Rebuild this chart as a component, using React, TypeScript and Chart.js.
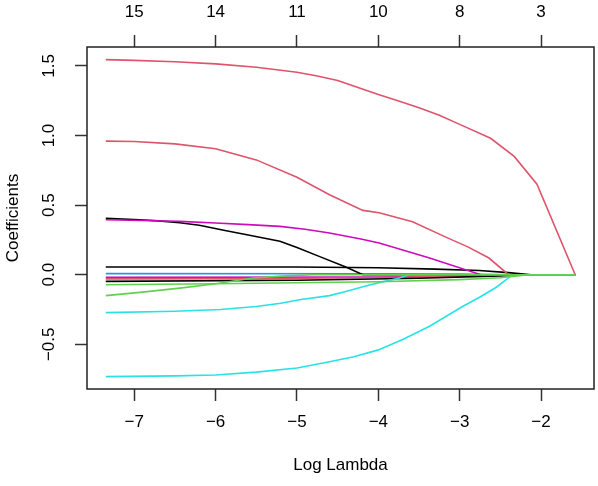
import { useEffect, useRef } from "react";
import { Chart, registerables } from "chart.js";

Chart.register(...registerables);

const FONT = "'Liberation Sans', Arial, Helvetica, sans-serif";

// R default palette colours used for the coefficient paths
const BLACK = "#000000";
const PINK = "#DF536B";
const GREEN = "#61D04F";
const BLUE = "#2297E6";
const CYAN = "#28E2E5";
const MAGENTA = "#CD0BBC";

// Axis ticks: log(lambda) along the bottom, number of non-zero coefficients on top
const logLambdaTicks = [-7, -6, -5, -4, -3, -2];
const dfLabels = ["15", "14", "11", "10", "8", "3"];
const coefTicks = [-0.5, 0, 0.5, 1.0, 1.5];

// Coefficient paths: log(lambda) positions and coefficient values
const greenFlatLambda = [-7.35, -6.0, -5.0, -4.0, -3.0, -2.5, -2.15, -1.58];
const greenFlatCoef = [-0.072, -0.065, -0.058, -0.05, -0.035, -0.022, 0, 0];

const greenCurveLambda = [-7.35, -6.9, -6.44, -6.0, -5.54, -5.2, -4.8, -1.58];
const greenCurveCoef = [-0.15, -0.125, -0.096, -0.065, -0.024, -0.01, 0, 0];

const pinkTopLambda = [-7.35, -7.0, -6.5, -6.0, -5.5, -5.0, -4.75, -4.5, -4.25, -4.0, -3.75, -3.5, -3.25, -3.0, -2.62, -2.33, -2.05, -1.58];
const pinkTopCoef = [1.545, 1.54, 1.53, 1.515, 1.49, 1.455, 1.428, 1.395, 1.345, 1.295, 1.248, 1.2, 1.145, 1.08, 0.98, 0.85, 0.65, 0];

const pinkMidLambda = [-7.35, -7.0, -6.5, -6.0, -5.5, -5.0, -4.6, -4.19, -3.99, -3.58, -3.17, -2.9, -2.64, -2.4, -1.58];
const pinkMidCoef = [0.96, 0.957, 0.94, 0.905, 0.825, 0.7, 0.575, 0.462, 0.445, 0.38, 0.27, 0.2, 0.12, 0, 0];

const magentaLambda = [-7.35, -6.9, -6.44, -6.0, -5.6, -5.21, -4.9, -4.6, -4.2, -3.99, -3.37, -2.74, -1.58];
const magentaCoef = [0.395, 0.39, 0.383, 0.372, 0.36, 0.347, 0.327, 0.3, 0.255, 0.228, 0.12, 0, 0];

const blackCurveLambda = [-7.35, -7.0, -6.7, -6.44, -6.2, -5.9, -5.6, -5.21, -5.0, -4.72, -4.4, -4.19, -1.58];
const blackCurveCoef = [0.405, 0.397, 0.387, 0.373, 0.355, 0.32, 0.285, 0.24, 0.195, 0.13, 0.055, 0, 0];

const blackFlatLambda = [-7.35, -5.0, -4.0, -3.3, -2.76, -2.4, -2.12, -1.58];
const blackFlatCoef = [0.056, 0.055, 0.05, 0.04, 0.03, 0.015, 0, 0];

const blueLambda = [-7.35, -4.0, -3.0, -2.3, -1.58];
const blueCoef = [0.008, 0.007, 0.004, 0, 0];

const magentaFlatLambda = [-7.35, -4.0, -3.0, -2.3, -1.58];
const magentaFlatCoef = [-0.019, -0.017, -0.01, 0, 0];

const pinkFlatLambda = [-7.35, -5.5, -4.0, -3.0, -2.4, -1.58];
const pinkFlatCoef = [-0.03, -0.028, -0.02, -0.01, 0, 0];

const blackLowLambda = [-7.35, -5.0, -3.5, -2.5, -2.2, -1.58];
const blackLowCoef = [-0.048, -0.04, -0.025, -0.008, 0, 0];

const cyanUpperLambda = [-7.35, -6.5, -5.94, -5.5, -5.2, -4.97, -4.6, -4.4, -4.19, -3.98, -3.78, -3.62, -1.58];
const cyanUpperCoef = [-0.272, -0.262, -0.25, -0.228, -0.205, -0.18, -0.15, -0.12, -0.086, -0.055, -0.03, 0, 0];

const cyanLowerLambda = [-7.35, -6.5, -6.0, -5.5, -5.0, -4.6, -4.3, -4.0, -3.7, -3.37, -2.97, -2.75, -2.55, -2.35, -1.58];
const cyanLowerCoef = [-0.732, -0.727, -0.72, -0.7, -0.67, -0.625, -0.59, -0.54, -0.465, -0.37, -0.23, -0.16, -0.09, 0, 0];

// First entry is drawn on top
const paths = [
  { lambda: greenFlatLambda, coef: greenFlatCoef, color: GREEN },
  { lambda: pinkTopLambda, coef: pinkTopCoef, color: PINK },
  { lambda: greenCurveLambda, coef: greenCurveCoef, color: GREEN },
  { lambda: cyanUpperLambda, coef: cyanUpperCoef, color: CYAN },
  { lambda: cyanLowerLambda, coef: cyanLowerCoef, color: CYAN },
  { lambda: pinkMidLambda, coef: pinkMidCoef, color: PINK },
  { lambda: magentaLambda, coef: magentaCoef, color: MAGENTA },
  { lambda: blackCurveLambda, coef: blackCurveCoef, color: BLACK },
  { lambda: blackFlatLambda, coef: blackFlatCoef, color: BLACK },
  { lambda: blackLowLambda, coef: blackLowCoef, color: BLACK },
  { lambda: pinkFlatLambda, coef: pinkFlatCoef, color: PINK },
  { lambda: magentaFlatLambda, coef: magentaFlatCoef, color: MAGENTA },
  { lambda: blueLambda, coef: blueCoef, color: BLUE },
];

const X_MIN = -7.581;
const X_MAX = -1.349;
const Y_MIN = -0.821;
const Y_MAX = 1.636;

const minus = (s: string) => s.replace("-", "\u2212");

const frame = {
  id: "frame",
  afterDatasetsDraw(chart: any) {
    const { ctx, chartArea } = chart;
    ctx.save();
    ctx.strokeStyle = "#222";
    ctx.lineWidth = 1.5;
    ctx.strokeRect(chartArea.left, chartArea.top, chartArea.right - chartArea.left, chartArea.bottom - chartArea.top);
    ctx.restore();
  },
};

export default function App() {
  const ref = useRef<HTMLCanvasElement>(null);

  useEffect(() => {
    if (!ref.current) return;
    const tickFont = { family: FONT, size: 17 };
    const grid = {
      display: true,
      drawOnChartArea: false,
      drawTicks: true,
      tickLength: 12,
      tickColor: "#333",
      tickWidth: 1.5,
    };
    const chart = new Chart(ref.current, {
      type: "line",
      data: {
        datasets: paths.map((p) => ({
          data: p.lambda.map((x, i) => ({ x, y: p.coef[i] })),
          borderColor: p.color,
          backgroundColor: p.color,
          borderWidth: 1.6,
          pointRadius: 0,
          tension: 0,
          fill: false,
        })),
      },
      options: {
        animation: false,
        responsive: false,
        events: [],
        layout: { padding: { left: 0, right: 4, top: 0, bottom: 0 } },
        plugins: { legend: { display: false }, tooltip: { enabled: false } },
        scales: {
          x: {
            type: "linear",
            position: "bottom",
            min: X_MIN,
            max: X_MAX,
            grid,
            border: { display: false },
            afterBuildTicks: (s: any) => {
              s.ticks = logLambdaTicks.map((value) => ({ value }));
            },
            afterFit: (s: any) => {
              s.height = 97;
            },
            ticks: {
              color: "#000",
              font: tickFont,
              padding: 11,
              maxRotation: 0,
              autoSkip: false,
              callback: (v: any) => minus(String(v)),
            },
            title: {
              display: true,
              text: "Log Lambda",
              color: "#000",
              font: tickFont,
              padding: { top: 0, bottom: 10 },
            },
          },
          x2: {
            type: "linear",
            axis: "x",
            position: "top",
            min: X_MIN,
            max: X_MAX,
            grid,
            border: { display: false },
            afterBuildTicks: (s: any) => {
              s.ticks = logLambdaTicks.map((value) => ({ value }));
            },
            afterFit: (s: any) => {
              s.height = 47;
            },
            ticks: {
              color: "#000",
              font: tickFont,
              padding: 12,
              maxRotation: 0,
              autoSkip: false,
              callback: (v: any) => {
                const i = logLambdaTicks.indexOf(Number(v));
                return i >= 0 ? dfLabels[i] : "";
              },
            },
          },
          y: {
            type: "linear",
            position: "left",
            min: Y_MIN,
            max: Y_MAX,
            grid,
            border: { display: false },
            afterBuildTicks: (s: any) => {
              s.ticks = coefTicks.map((value) => ({ value }));
            },
            afterFit: (s: any) => {
              s.width = 87;
            },
            ticks: {
              color: "#000",
              font: tickFont,
              padding: 9,
              minRotation: 90,
              maxRotation: 90,
              crossAlign: "center",
              autoSkip: false,
              callback: (v: any) => minus(Number(v).toFixed(1)),
            },
            title: {
              display: true,
              text: "Coefficients",
              color: "#000",
              font: tickFont,
              padding: { top: 3, bottom: 0 },
            },
          },
        },
      },
      plugins: [frame],
    } as any);
    return () => chart.destroy();
  }, []);

  return (
    <div style={{ position: "absolute", left: 0, top: 0, width: 598, height: 486, background: "#fff" }}>
      <canvas ref={ref} width={598} height={486} style={{ display: "block", width: 598, height: 486 }} />
    </div>
  );
}
